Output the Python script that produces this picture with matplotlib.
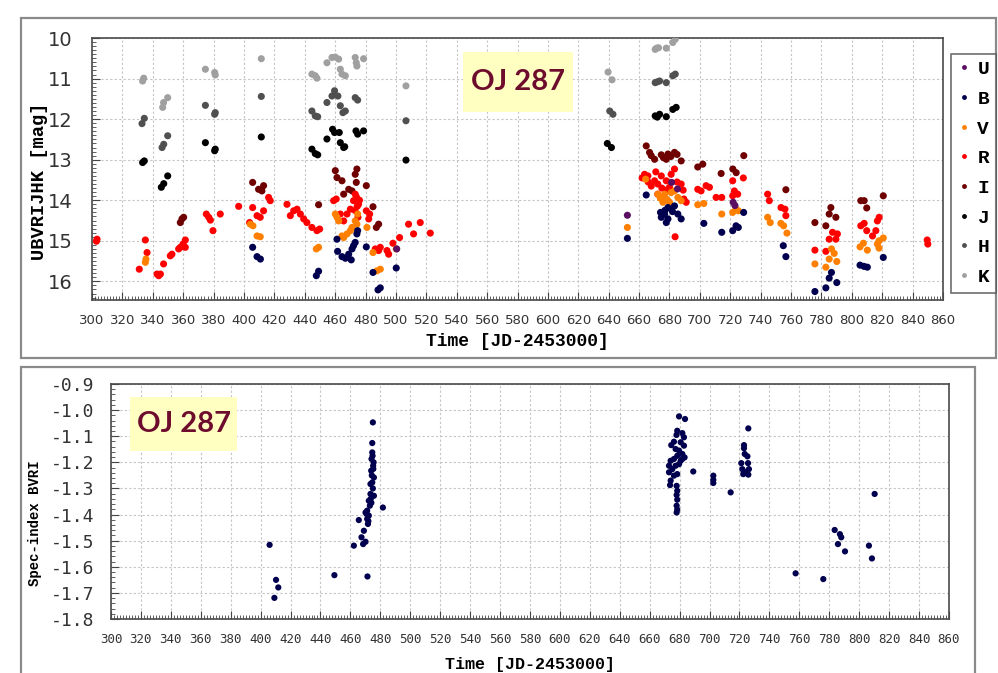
import numpy as np
import matplotlib
matplotlib.use("Agg")
import matplotlib.pyplot as plt
from matplotlib.ticker import MultipleLocator, FormatStrFormatter
from matplotlib.patches import Rectangle
from matplotlib.lines import Line2D

plt.rcParams['axes.unicode_minus'] = False

# ---- top panel: light curves (JD-2453000, mag) ----
u_t = [500.5, 652.3, 681.4, 685.3, 721.9, 723.1]
u_m = [15.20, 14.37, 13.56, 13.72, 14.05, 14.13]

b_t = [405.7, 408.6, 410.8, 447.6, 449.1, 461.2, 461.6, 464.5, 466.7, 468.9, 470.6, 471.1,
       473.2, 474.3, 474.8, 472.1, 480.5, 484.9, 488.2, 489.7, 500.2,
       652.3, 664.7, 674.1, 676.8, 679.0, 681.2, 683.3, 677.9, 679.0, 685.5, 687.7, 674.6,
       677.0, 682.0, 702.6, 714.4, 721.6, 723.8, 725.3, 728.8, 754.9, 756.6, 775.7, 782.9,
       785.1, 786.6, 790.1, 805.4, 808.0, 810.2, 820.7]
b_m = [15.16, 15.39, 15.45, 15.86, 15.75, 14.96, 15.26, 15.39, 15.43, 15.33, 15.47, 15.20,
       15.04, 14.83, 14.75, 15.12, 15.15, 15.78, 16.21, 16.16, 15.67,
       14.94, 13.87, 14.30, 14.34, 14.18, 14.22, 14.14, 14.55, 14.46, 14.34, 14.46, 14.42,
       14.25, 14.28, 14.57, 14.79, 14.75, 14.63, 14.67, 14.30, 15.12, 15.39, 16.25, 16.16,
       15.92, 15.78, 16.03, 15.60, 15.63, 15.65, 15.41]

v_t = [335.1, 335.5, 404.2, 405.9, 408.6, 410.7, 447.6, 449.1, 460.1, 461.2, 462.3, 464.5,
       465.6, 467.8, 470.0, 471.1, 473.2, 474.8, 474.3, 480.9, 484.9, 487.5, 489.7, 500.2,
       652.3, 664.3, 672.4, 676.8, 679.0, 681.1, 683.3, 685.5, 687.7, 675.7, 677.9, 674.0,
       680.0, 698.6, 702.6, 714.4, 721.6, 723.8, 725.3, 744.6, 746.3, 753.3, 755.1, 757.3,
       775.7, 782.9, 785.1, 786.6, 788.4, 790.1, 805.4, 807.6, 810.2, 816.8, 817.9, 820.7,
       817.9]
v_m = [15.53, 15.45, 14.59, 14.63, 14.88, 14.90, 15.20, 15.16, 14.34, 14.42, 14.51, 14.88,
       14.92, 14.83, 14.75, 14.67, 14.51, 14.34, 14.59, 14.67, 15.29, 15.74, 15.70, 15.20,
       14.67, 13.48, 13.85, 13.85, 14.01, 13.81, 13.77, 13.93, 14.01, 14.05, 13.97, 13.95,
       14.05, 14.11, 14.08, 14.34, 14.30, 14.22, 14.26, 14.42, 14.55, 14.57, 14.63, 14.81,
       15.57, 15.65, 15.45, 15.20, 15.31, 15.51, 15.15, 15.06, 15.23, 15.08, 15.00, 14.93,
       15.18]

r_t = [302.9, 303.3, 331.1, 335.1, 336.2, 342.8, 343.9, 345.0, 347.1, 351.5, 352.6, 357.0,
       358.1, 359.9, 361.4, 361.4, 375.2, 376.8, 377.9, 379.6, 384.4, 396.5, 403.7, 405.7,
       408.6, 410.7, 412.9, 416.2, 417.3, 428.3, 430.5, 432.7, 434.9, 437.1, 439.3, 441.4,
       444.7, 448.0, 449.8, 459.0, 460.7, 463.4, 465.6, 467.8, 470.0, 472.1, 473.2, 475.4,
       475.0, 474.0, 474.5, 473.0, 476.0, 480.5, 482.1, 482.7, 486.4, 488.6, 489.7, 494.1,
       495.2, 498.0, 502.4, 508.3, 511.6, 516.0, 522.6,
       663.6, 665.8, 670.2, 672.3, 674.6, 677.9, 681.1, 683.3, 672.3, 680.0, 687.7, 689.5,
       691.0, 683.7, 666.0, 668.0, 675.0, 678.0, 685.0, 662.0, 671.0, 689.0,
       698.6, 700.8, 704.1, 706.3, 710.7, 714.4, 721.6, 722.7, 724.9, 728.6,
       721.6, 744.6, 745.7, 753.4, 756.0, 756.6, 775.7, 782.9, 785.1, 787.3, 790.5, 789.5,
       805.9, 808.1, 809.8, 813.6, 815.8, 816.8, 818.0, 849.6, 850.0]
r_m = [15.01, 14.96, 15.70, 14.98, 15.29, 15.82, 15.86, 15.82, 15.57, 15.37, 15.33, 15.20,
       15.16, 15.08, 15.16, 14.98, 14.34, 14.42, 14.49, 14.75, 14.34, 14.15, 14.55, 14.18,
       14.38, 14.42, 14.26, 13.93, 14.01, 14.10, 14.38, 14.26, 14.22, 14.34, 14.46, 14.55,
       14.67, 14.75, 14.71, 14.01, 13.97, 14.34, 14.51, 14.34, 14.22, 14.01, 13.85, 14.10,
       14.42, 13.92, 14.15, 14.25, 14.00, 14.26, 14.46, 14.34, 15.20, 15.24, 15.16, 15.24,
       15.33, 15.06, 14.92, 14.59, 14.83, 14.55, 14.81,
       13.36, 13.40, 13.52, 13.60, 13.40, 13.52, 13.36, 13.23, 13.85, 13.68, 13.60, 13.97,
       14.05, 14.90, 13.55, 13.65, 13.70, 13.75, 13.55, 13.45, 13.30, 13.75,
       13.73, 13.77, 13.64, 13.68, 13.93, 13.93, 13.52, 13.77, 13.85, 13.45,
       13.89, 13.85, 14.01, 14.18, 14.22, 14.38, 15.23, 15.26, 14.96, 14.79, 14.83, 14.96,
       14.63, 14.57, 14.75, 14.88, 14.75, 14.51, 14.42, 14.98, 15.08]

i_t = [358.1, 359.2, 360.3, 405.7, 409.6, 411.8, 412.9, 449.1, 460.1, 461.2, 464.5, 465.6,
       468.9, 471.1, 473.2, 473.9, 474.3, 480.5, 484.9, 488.6, 487.1,
       664.7, 666.9, 670.2, 674.6, 679.0, 683.3, 687.7, 677.9, 668.0, 676.0, 681.0, 685.0,
       698.6, 701.9, 714.0, 721.7, 723.9, 728.9, 756.6, 775.7, 782.9, 785.1, 786.2, 789.5,
       805.9, 808.1, 809.8, 820.7]
i_m = [14.55, 14.46, 14.42, 13.56, 13.73, 13.77, 13.64, 14.11, 13.27, 13.44, 13.52, 13.85,
       13.73, 13.77, 13.36, 13.56, 13.23, 13.64, 14.16, 14.59, 14.67,
       12.66, 12.82, 12.99, 12.88, 12.86, 12.82, 13.03, 12.99, 12.90, 12.95, 12.92, 12.87,
       13.18, 13.11, 13.34, 13.23, 13.32, 12.90, 13.74, 14.55, 14.63, 14.34, 14.18, 14.42,
       14.01, 14.01, 14.19, 13.89]

j_t = [333.3, 334.4, 345.6, 347.2, 349.8, 374.6, 380.7, 381.1, 411.4, 444.7, 446.9, 448.5,
       454.6, 458.3, 459.6, 462.7, 463.4, 465.6, 466.3, 473.7, 474.8, 478.7, 506.6,
       639.1, 641.8, 670.6, 672.0, 673.5, 677.9, 682.2, 684.4]
j_m = [13.07, 13.03, 13.68, 13.59, 13.40, 12.58, 12.78, 12.74, 12.44, 12.74, 12.85, 12.88,
       12.49, 12.25, 12.33, 12.33, 12.58, 12.70, 12.68, 12.29, 12.37, 12.29, 13.01,
       12.60, 12.70, 11.92, 11.95, 11.88, 11.94, 11.76, 11.71]

h_t = [332.9, 334.4, 346.1, 347.2, 349.8, 374.6, 381.1, 380.7, 411.4, 444.7, 446.9, 448.5,
       454.6, 457.9, 459.6, 461.8, 463.4, 465.1, 466.7, 473.2, 474.8, 506.6,
       640.7, 642.8, 670.6, 672.0, 673.5, 677.9, 682.2, 683.8]
h_m = [12.11, 11.98, 12.70, 12.62, 12.41, 11.66, 11.84, 11.88, 11.44, 11.80, 11.92, 11.94,
       11.59, 11.43, 11.30, 11.43, 11.67, 11.84, 11.80, 11.47, 11.53, 12.04,
       11.80, 11.88, 11.10, 11.08, 11.06, 11.10, 10.93, 10.89]

k_t = [333.3, 334.0, 346.5, 347.1, 349.8, 374.6, 380.7, 381.1, 411.4, 444.7, 446.9, 448.0,
       454.6, 457.9, 460.1, 462.3, 463.4, 464.5, 466.7, 473.2, 473.9, 474.3, 478.7, 506.6,
       639.6, 642.2, 670.6, 671.5, 672.8, 677.9, 682.2, 683.8]
k_m = [11.06, 10.99, 11.71, 11.59, 11.47, 10.77, 10.85, 10.91, 10.51, 10.89, 10.93, 10.99,
       10.61, 10.48, 10.47, 10.52, 10.77, 10.89, 10.93, 10.48, 10.61, 10.69, 10.51, 11.18,
       10.84, 11.03, 10.28, 10.25, 10.24, 10.25, 10.11, 10.03]

bands = ['U', 'B', 'V', 'R', 'I', 'J', 'H', 'K']
band_colors = ['#5a0f62', '#00004e', '#ff8000', '#ff0000', '#6e0000', '#000000', '#505050', '#a0a0a0']

# ---- bottom panel: spectral index BVRI ----
si_t = [406.0, 410.3, 411.8, 409.2, 449.3, 462.3, 465.6, 467.4, 469.0, 468.5, 470.1, 471.4,
        475.0, 474.6, 474.6, 474.1, 475.2, 473.9, 475.7, 474.6, 473.4, 473.4, 475.7, 472.3,
        473.0, 471.2, 470.8, 472.3, 471.2, 471.7, 470.1, 481.7, 474.8, 475.5, 475.3, 474.3,
        475.0, 473.6, 474.0, 472.0,
        679.6, 683.6, 725.9, 678.4, 681.8, 682.9, 676.2, 674.4, 677.9, 680.7, 682.9, 677.3,
        679.6, 681.8, 683.3, 674.0, 676.2, 678.4, 680.7, 672.9, 675.1, 677.3, 679.6, 681.8,
        672.9, 676.2, 678.4, 674.0, 673.6, 678.0, 678.4, 678.0, 678.4, 678.0, 678.4, 678.0,
        689.1, 702.5, 702.5, 702.5, 714.1, 723.0, 723.0, 723.5, 725.3, 721.2, 721.9, 724.1,
        725.7, 726.3, 725.9, 722.5,
        757.5, 776.0, 783.6, 787.1, 788.0, 785.8, 790.5, 806.5, 808.5, 810.3]
si_v = [-1.516, -1.650, -1.679, -1.719, -1.632, -1.519, -1.421, -1.487, -1.462, -1.513, -1.504, -1.637,
        -1.047, -1.126, -1.162, -1.187, -1.213, -1.232, -1.258, -1.277, -1.283, -1.321, -1.328, -1.347,
        -1.366, -1.385, -1.398, -1.404, -1.417, -1.436, -1.392, -1.373, -1.175, -1.200, -1.225, -1.250,
        -1.300, -1.340, -1.355, -1.425,
        -1.024, -1.034, -1.070, -1.079, -1.088, -1.104, -1.121, -1.134, -1.095, -1.123, -1.136, -1.149,
        -1.155, -1.168, -1.181, -1.194, -1.187, -1.175, -1.194, -1.213, -1.226, -1.213, -1.207, -1.187,
        -1.238, -1.251, -1.245, -1.270, -1.287, -1.290, -1.309, -1.325, -1.343, -1.366, -1.381, -1.392,
        -1.235, -1.251, -1.267, -1.279, -1.315, -1.134, -1.146, -1.168, -1.177, -1.203, -1.226, -1.238,
        -1.203, -1.226, -1.247, -1.245,
        -1.625, -1.647, -1.459, -1.475, -1.487, -1.513, -1.541, -1.519, -1.568, -1.321]

top_t = [u_t, b_t, v_t, r_t, i_t, j_t, h_t, k_t]
top_m = [u_m, b_m, v_m, r_m, i_m, j_m, h_m, k_m]

fig = plt.figure(figsize=(9.98, 6.73), dpi=100)
fig.patch.set_facecolor('white')

# outer frames
fig.patches.append(Rectangle((0.021, 0.468), 0.977, 0.505, transform=fig.transFigure,
                             fill=False, ec='#8a8a8a', lw=1.6, zorder=0))
fig.patches.append(Rectangle((0.021, -0.1), 0.956, 0.555, transform=fig.transFigure,
                             fill=False, ec='#8a8a8a', lw=1.6, zorder=0))

grid_kw = dict(color='#c4c4c4', linestyle=(0, (2, 2)), linewidth=0.8)
mono_bold = dict(family='Liberation Mono', weight='bold')


def style_axes(ax):
    for s in ax.spines.values():
        s.set_color('#4a4a4a')
        s.set_linewidth(1.2)
    ax.grid(True, **grid_kw)
    ax.set_axisbelow(True)
    ax.tick_params(which='both', direction='in', top=False, right=False, color='#444444')
    ax.tick_params(which='major', length=6)
    ax.tick_params(which='minor', length=3)


# top panel
ax1 = fig.add_axes([0.0922, 0.5542, 0.8527, 0.3893])
for t, m, c in list(zip(top_t, top_m, band_colors))[::-1]:
    ax1.scatter(t, m, s=26, color=c, edgecolors='none', zorder=3)
ax1.set_xlim(300, 860)
ax1.set_ylim(16.46, 10)
ax1.xaxis.set_major_locator(MultipleLocator(20))
ax1.xaxis.set_minor_locator(MultipleLocator(2))
ax1.yaxis.set_major_locator(MultipleLocator(1))
ax1.yaxis.set_minor_locator(MultipleLocator(0.1))
style_axes(ax1)
ax1.tick_params(axis='x', which='major', labelsize=9.5, pad=10, labelcolor='#333333')
ax1.tick_params(axis='y', which='major', labelsize=14, pad=14, labelcolor='#333333')
ax1.set_xlabel('Time [JD-2453000]', fontsize=13, **mono_bold)
ax1.xaxis.set_label_coords(0.5, -0.125)
ax1.set_ylabel('UBVRIJHK [mag]', fontsize=13.5, **mono_bold)
ax1.yaxis.set_label_coords(-0.052, 0.454)

handles = [Line2D([], [], ls='none', marker='o', ms=3.5, color=c, mec='none') for c in band_colors]
leg = fig.legend(handles, bands, loc='upper left', bbox_to_anchor=(0.953, 0.920),
                 prop=dict(family='Liberation Mono', weight='bold', size=14),
                 frameon=True, fancybox=False, handlelength=0.6, handletextpad=0.4,
                 borderpad=0.35, labelspacing=0.62, borderaxespad=0)
leg.get_frame().set_edgecolor('#4a4a4a')
leg.get_frame().set_linewidth(1.2)

# bottom panel
ax2 = fig.add_axes([0.1112, 0.0802, 0.8397, 0.3492])
ax2.scatter(si_t, si_v, s=20, color='#00004e', edgecolors='none', zorder=3)
ax2.set_xlim(300, 860)
ax2.set_ylim(-1.8, -0.9)
ax2.xaxis.set_major_locator(MultipleLocator(20))
ax2.xaxis.set_minor_locator(MultipleLocator(2))
ax2.yaxis.set_major_locator(MultipleLocator(0.1))
ax2.yaxis.set_minor_locator(MultipleLocator(0.02))
ax2.yaxis.set_major_formatter(FormatStrFormatter('%.1f'))
style_axes(ax2)
ax2.tick_params(axis='x', which='major', labelsize=9, pad=10, labelcolor='#333333')
ax2.tick_params(axis='y', which='major', labelsize=13, pad=12, labelcolor='#333333')
for lab in ax2.get_xticklabels() + ax2.get_yticklabels():
    lab.set_family('DejaVu Sans Mono')
ax2.set_xlabel('Time [JD-2453000]', fontsize=12, **mono_bold)
ax2.xaxis.set_label_coords(0.5, -0.16)
ax2.set_ylabel('Spec-index BVRI', fontsize=10, **mono_bold)
ax2.yaxis.set_label_coords(-0.082, 0.408)

# "OJ 287" tags
for (x0, y0, w, h) in [(0.4639, 0.8336, 0.1102, 0.0892), (0.1303, 0.3299, 0.1072, 0.0802)]:
    fig.patches.append(Rectangle((x0, y0), w, h, transform=fig.transFigure,
                                 fc='#ffffc2', ec='none', zorder=5))
    fig.text(x0 + w / 2, y0 + h / 2, 'OJ 287', ha='center', va='center', fontsize=21,
             family='Lato', weight='bold', color='#6e0c2e', zorder=6)

fig.savefig('out.png', dpi=100)
